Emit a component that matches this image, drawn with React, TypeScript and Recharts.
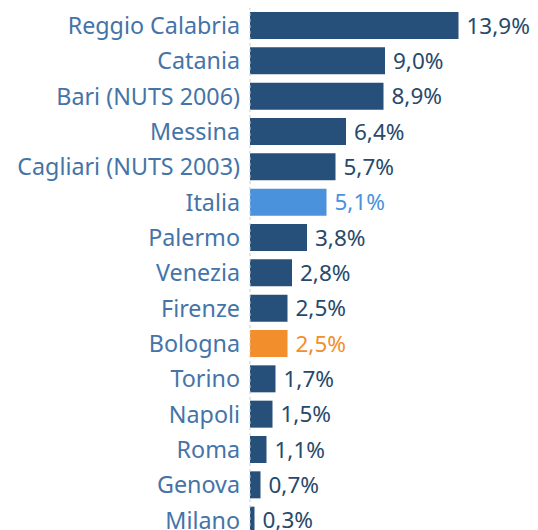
import React from "react";
import { BarChart, Bar, XAxis, YAxis, Cell, LabelList, ReferenceLine } from "recharts";

const categories = [
  "Reggio Calabria",
  "Catania",
  "Bari (NUTS 2006)",
  "Messina",
  "Cagliari (NUTS 2003)",
  "Italia",
  "Palermo",
  "Venezia",
  "Firenze",
  "Bologna",
  "Torino",
  "Napoli",
  "Roma",
  "Genova",
  "Milano",
];
const values = [13.9, 9.0, 8.9, 6.4, 5.7, 5.1, 3.8, 2.8, 2.5, 2.5, 1.7, 1.5, 1.1, 0.7, 0.3];

const BAR = "#26507a";
const ITALIA = "#4a93dc";
const BOLOGNA = "#f28e2b";
const LABEL = "#27496b";

const colorFor = (name: string) =>
  name === "Italia" ? ITALIA : name === "Bologna" ? BOLOGNA : BAR;
const labelColorFor = (name: string) =>
  name === "Italia" ? ITALIA : name === "Bologna" ? BOLOGNA : LABEL;

const data = categories.map((name, i) => ({ name, value: values[i] }));

const fmt = (v: number) => v.toFixed(1).replace(".", ",") + "%";

const ValueLabel = (props: any) => {
  const { x, y, width, height, index } = props;
  const d = data[index];
  return (
    <text
      x={x + width + 8}
      y={y + height / 2}
      dy="0.36em"
      fill={labelColorFor(d.name)}
      fontSize={22.5}
      fontFamily="Noto Sans"
      textAnchor="start"
    >
      {fmt(d.value)}
    </text>
  );
};

export default function App() {
  return (
    <BarChart
      width={530}
      height={530}
      data={data}
      layout="vertical"
      margin={{ top: 0, right: 3, bottom: 0, left: 0 }}
      barSize={27}
      style={{ overflow: "visible" }}
    >
      <XAxis type="number" domain={[0, 19]} hide />
      <YAxis
        type="category"
        dataKey="name"
        width={242}
        axisLine={false}
        tickLine={false}
        tickSize={0}
        tickMargin={10}
        interval={0}
        tick={{ fill: "#4474a8", fontSize: 23.3, fontFamily: "Noto Sans" }}
      />
      <ReferenceLine x={0} stroke="#cccccc" strokeDasharray="3 3" />
      <Bar dataKey="value" isAnimationActive={false}>
        {data.map((d) => (
          <Cell key={d.name} fill={colorFor(d.name)} />
        ))}
        <LabelList dataKey="value" content={<ValueLabel />} />
      </Bar>
    </BarChart>
  );
}
